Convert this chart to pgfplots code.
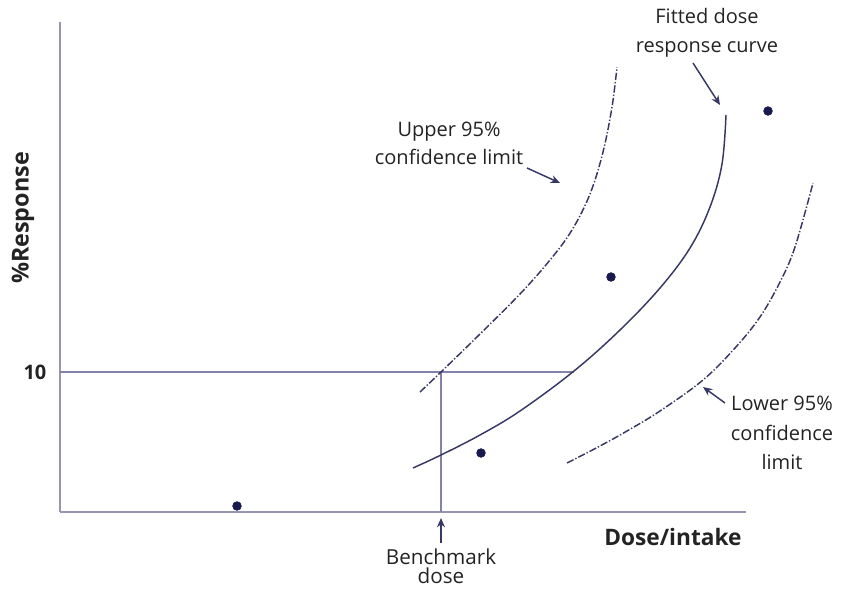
\documentclass[border=0pt]{standalone}
\usepackage{pgfplots}
\pgfplotsset{compat=1.18}
\usepackage{fontspec}
\setmainfont{Open Sans}
\usetikzlibrary{arrows.meta}
\definecolor{axgray}{RGB}{150,150,178}
\definecolor{refline}{RGB}{130,130,170}
\definecolor{curve}{RGB}{55,55,105}
\definecolor{dotc}{RGB}{25,25,80}
\definecolor{txt}{RGB}{35,35,35}
\begin{document}
\begin{tikzpicture}
\begin{axis}[
  scale only axis, width=514.5pt, height=367.5pt,
  xmin=0, xmax=686, ymin=0, ymax=490,
  axis lines=left, axis line style={-, color=axgray, line width=1.8pt},
  xtick=\empty, ytick={140}, yticklabels={\textbf{10}},
  major tick length=0pt,
  /pgf/number format/assume math mode=true,
  yticklabel style={font=\fontsize{15}{18}\selectfont, text=txt, inner sep=0pt, xshift=-10pt},
  clip=false,
]
% reference lines
\addplot[refline, line width=1pt] coordinates {(0,140) (514,140)};
\addplot[refline, line width=1pt] coordinates {(381,0) (381,140)};
% fitted curve
\addplot[curve, line width=1.1pt, smooth, tension=0.6] coordinates {
(353,44) (381,57) (420,77) (460,101) (514,141) (560,182) (600,224) (630,264) (650,305) (662,348) (666,397)};
% upper limit
\addplot[curve, line width=1.1pt, smooth, tension=0.6, dash pattern=on 5.5pt off 1.5pt on 1pt off 1.5pt] coordinates {
(360,120) (381,140) (420,178) (460,218) (490,252) (512,282) (530,318) (543,360) (552,405) (557,445)};
% lower limit
\addplot[curve, line width=1.1pt, smooth, tension=0.6, dash pattern=on 5.5pt off 1.5pt on 1pt off 1.5pt] coordinates {
(507,49) (540,66) (567,81) (600,101) (643,132) (675,164) (700,195) (720,230) (735,265) (753,329)};
% data points
\addplot[only marks, mark=*, mark size=3.3pt, color=dotc] coordinates {
(177,6) (421,59) (551,235) (708,401)};
% arrows
\draw[curve, line width=1.1pt, -{Stealth[length=7pt,width=6pt]}] (axis cs:467,344) -- (axis cs:500,329);
\draw[curve, line width=1.1pt, -{Stealth[length=7pt,width=6pt]}] (axis cs:633,449) -- (axis cs:660,407);
\draw[curve, line width=1.1pt, -{Stealth[length=7pt,width=6pt]}] (axis cs:665,109) -- (axis cs:643,125);
\draw[curve, line width=1.1pt, -{Stealth[length=7pt,width=6pt]}] (axis cs:381,-31) -- (axis cs:381,-6);
% labels
\node[text=txt, align=center, font=\fontsize{15}{22}\selectfont] at (axis cs:647,479) {Fitted dose\\response curve};
\node[text=txt, align=center, font=\fontsize{15}{21}\selectfont] at (axis cs:389,369) {Upper 95\%\\confidence limit};
\node[text=txt, align=center, font=\fontsize{15}{22}\selectfont] at (axis cs:722,79) {Lower 95\%\\confidence\\limit};
\node[text=txt, align=center, font=\fontsize{15.5}{14}\selectfont] at (axis cs:381,-54) {Benchmark\\dose};
\node[text=txt, font=\fontsize{17}{20}\selectfont\bfseries] at (axis cs:613,-25) {Dose/intake};
\node[text=txt, rotate=90, font=\fontsize{17.5}{20}\selectfont\bfseries] at (axis cs:-37,294) {\%Response};
\coordinate (bbll) at (axis cs:-60,-77);
\coordinate (bbur) at (axis cs:782,512);
\end{axis}
\pgfresetboundingbox
\path[use as bounding box] (bbll) rectangle (bbur);
\end{tikzpicture}
\end{document}
